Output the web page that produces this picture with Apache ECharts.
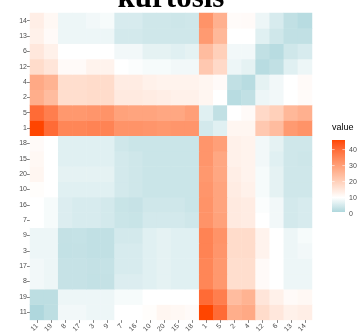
<!DOCTYPE html>
<html>
<head>
<meta charset="utf-8">
<script src="https://cdn.jsdelivr.net/npm/echarts@6/dist/echarts.min.js"></script>
<style>
  html, body { margin: 0; padding: 0; background: #ffffff; }
  #chart { width: 362px; height: 335px; }
</style>
</head>
<body>
<div id="chart"></div>
<script>
// Variable order along both axes (x left→right, y bottom→top)
const order = ['11','19','8','17','3','9','7','16','10','20','15','18','1','5','2','4','12','6','13','14'];

// Pairwise kurtosis, one row per variable in `order`, columns in the same order
const row11 = [1, 2.5, 8.5, 8.5, 8, 8, 10, 10, 10.5, 12, 11.5, 11, 46, 40, 27, 28, 17.5, 15, 13, 13.5];
const row19 = [2.5, 2.5, 8, 8, 8, 8, 9, 9, 10, 10, 10, 10, 40, 36.5, 24, 26, 15.5, 13, 11, 11.5];
const row8  = [8.5, 8, 3.5, 3.5, 3.2, 3.3, 6, 6, 6.5, 7, 6.5, 6.5, 35, 31.5, 17, 17, 11, 10, 8, 8];
const row17 = [8.5, 8, 3.5, 3.5, 3.3, 3.4, 5.5, 5.5, 6.5, 7, 6.5, 6.5, 35, 31.5, 17, 17, 11, 10, 8, 8];
const row3  = [8, 8, 3.2, 3.3, 3, 3, 5.5, 5.5, 6.5, 7, 6.5, 6.5, 35.5, 32, 17.5, 17.5, 12.5, 10, 8, 8.5];
const row9  = [8, 8, 3.3, 3.4, 3, 3, 5, 5, 6.5, 7, 6.5, 6.5, 35.5, 32.5, 17.5, 17.5, 12.5, 10, 8, 9];
const row7  = [10, 9, 6, 5.5, 5.5, 5, 4, 3.8, 5, 5, 5, 4.5, 32.5, 29.5, 14.5, 14, 10, 8.5, 5, 5.5];
const row16 = [10, 9, 6, 5.5, 5.5, 5, 3.8, 3.5, 4.5, 4.5, 4.5, 4, 32.5, 29, 14.5, 14, 9.5, 8.5, 5, 5.5];
const row10 = [10.5, 10, 6.5, 6.5, 6.5, 6.5, 5, 4.5, 4, 4, 4, 4, 32, 29, 14, 13, 9, 7, 4.5, 4.5];
const row20 = [12, 10, 7, 7, 7, 7, 5, 4.5, 4, 4, 4, 4, 31.5, 28.5, 13.5, 12.5, 9, 7, 4.5, 4.5];
const row15 = [11.5, 10, 6.5, 6.5, 6.5, 6.5, 5, 4.5, 4, 4, 4, 4, 32, 28.5, 13, 12.5, 8.5, 6.5, 4.5, 4.3];
const row18 = [11, 10, 6.5, 6.5, 6.5, 6.5, 4.5, 4, 4, 4, 4, 4, 32, 30, 13, 12.5, 8.5, 7, 4.5, 4.5];
const row1  = [46, 40, 35, 35, 35.5, 35.5, 32.5, 32.5, 32, 31.5, 32, 32, 5, 6.5, 12, 12, 21.5, 24, 31, 32.5];
const row5  = [40, 36.5, 31.5, 31.5, 32, 32.5, 29.5, 29, 29, 28.5, 28.5, 30, 6.5, 3, 10, 11, 18, 20, 25, 26.5];
const row2  = [27, 24, 17, 17, 17.5, 17.5, 14.5, 14.5, 14, 13.5, 13, 13, 12, 10, 2, 3, 8, 8.5, 10, 10.8];
const row4  = [28, 26, 17, 17, 17.5, 17.5, 14, 14, 13, 12.5, 12.5, 12.5, 12, 11, 3, 2, 7, 8.5, 10, 11];
const row12 = [17.5, 15.5, 11, 11, 12.5, 12.5, 10, 9.5, 9, 9, 8.5, 8.5, 21.5, 18, 8, 7, 2, 3, 6.5, 8];
const row6  = [15, 13, 10, 10, 10, 10, 8.5, 8.5, 7, 7, 6.5, 7, 24, 20, 8.5, 8.5, 3, 2, 4.5, 5.5];
const row13 = [13, 11, 8, 8, 8, 8, 5, 5, 4.5, 4.5, 4.5, 4.5, 31, 25, 10, 10, 6.5, 4.5, 3, 3];
const row14 = [13.5, 11.5, 8, 8, 8.5, 9, 5.5, 5.5, 4.5, 4.5, 4.3, 4.5, 32.5, 26.5, 10.8, 11, 8, 5.5, 3, 2];

const rows = [row11, row19, row8, row17, row3, row9, row7, row16, row10, row20,
              row15, row18, row1, row5, row2, row4, row12, row6, row13, row14];

const legendTicks = [0, 10, 20, 30, 40];
const titleText = 'kurtosis';
const legendTitle = 'value';

// ---- diverging colour scale (white at the midpoint), blended in CIELAB ----
const MID = 10;
const LOW_COLOR = '#a6d3d9';   // colour at value 0
const MID_COLOR = '#ffffff';
const HIGH_COLOR = '#ff4500';  // colour at the maximum

function hexToRgb(h) {
  h = h.replace('#', '');
  return [parseInt(h.slice(0, 2), 16), parseInt(h.slice(2, 4), 16), parseInt(h.slice(4, 6), 16)];
}
function toLin(c) { c /= 255; return c <= 0.04045 ? c / 12.92 : Math.pow((c + 0.055) / 1.055, 2.4); }
function fromLin(c) { c = c <= 0.0031308 ? 12.92 * c : 1.055 * Math.pow(c, 1 / 2.4) - 0.055; return Math.max(0, Math.min(255, Math.round(c * 255))); }
const WX = 0.95047, WY = 1.0, WZ = 1.08883;
function fLab(t) { return t > 0.008856 ? Math.cbrt(t) : 7.787 * t + 16 / 116; }
function fInv(t) { return t > 0.206893 ? t * t * t : (t - 16 / 116) / 7.787; }
function rgbToLab(rgb) {
  const r = toLin(rgb[0]), g = toLin(rgb[1]), b = toLin(rgb[2]);
  const x = (0.4124 * r + 0.3576 * g + 0.1805 * b) / WX;
  const y = (0.2126 * r + 0.7152 * g + 0.0722 * b) / WY;
  const z = (0.0193 * r + 0.1192 * g + 0.9505 * b) / WZ;
  const fx = fLab(x), fy = fLab(y), fz = fLab(z);
  return [116 * fy - 16, 500 * (fx - fy), 200 * (fy - fz)];
}
function labToHex(lab) {
  const fy = (lab[0] + 16) / 116, fx = fy + lab[1] / 500, fz = fy - lab[2] / 200;
  const x = fInv(fx) * WX, y = fInv(fy) * WY, z = fInv(fz) * WZ;
  const r = 3.2406 * x - 1.5372 * y - 0.4986 * z;
  const g = -0.9689 * x + 1.8758 * y + 0.0415 * z;
  const b = 0.0557 * x - 0.2040 * y + 1.0570 * z;
  return '#' + [fromLin(r), fromLin(g), fromLin(b)].map(v => v.toString(16).padStart(2, '0')).join('');
}
const labLow = rgbToLab(hexToRgb(LOW_COLOR));
const labMid = rgbToLab(hexToRgb(MID_COLOR));
const labHigh = rgbToLab(hexToRgb(HIGH_COLOR));
function mixLab(a, b, t) { return [a[0] + (b[0] - a[0]) * t, a[1] + (b[1] - a[1]) * t, a[2] + (b[2] - a[2]) * t]; }

const allValues = rows.flat();
const vmin = Math.min(...allValues);
const vmax = Math.max(...allValues);

function colorAt(v) {
  if (v <= MID) {
    const t = Math.max(0, Math.min(1, (MID - v) / MID));
    return labToHex(mixLab(labMid, labLow, t));
  }
  const t = Math.max(0, Math.min(1, (v - MID) / (vmax - MID)));
  return labToHex(mixLab(labMid, labHigh, t));
}

const NSTOPS = 91;
const rampColors = [];
for (let k = 0; k < NSTOPS; k++) rampColors.push(colorAt(vmin + (vmax - vmin) * k / (NSTOPS - 1)));

// heatmap cells: [x index, y index, value]
const cells = [];
rows.forEach((row, i) => row.forEach((v, j) => cells.push([j, i, v])));

// ---- layout ----
const PLOT = { left: 30, top: 13, right: 312, bottom: 320 };
const BAR = { x: 332, top: 140, bottom: 212, width: 13 };
const TEXT_GREY = '#4d4d4d';
const SANS = 'Liberation Sans, Arial, sans-serif';

function barY(v) { return BAR.bottom - (v - vmin) / (vmax - vmin) * (BAR.bottom - BAR.top); }

const legendGraphics = [];
legendGraphics.push({
  type: 'text', x: BAR.x, y: 128,
  style: { text: legendTitle, fill: '#000', font: '9px ' + SANS, verticalAlign: 'middle', align: 'left' }
});
legendGraphics.push({
  type: 'rect',
  shape: { x: BAR.x, y: BAR.top, width: BAR.width, height: BAR.bottom - BAR.top },
  style: {
    fill: new echarts.graphic.LinearGradient(0, 1, 0, 0,
      rampColors.map((c, k) => ({ offset: k / (NSTOPS - 1), color: c })))
  }
});
legendTicks.forEach(t => {
  const y = barY(t);
  if (y >= BAR.top && y <= BAR.bottom) {
    legendGraphics.push({ type: 'line', shape: { x1: BAR.x, y1: y, x2: BAR.x + 2.6, y2: y }, style: { stroke: '#fff', lineWidth: 0.6 } });
    legendGraphics.push({ type: 'line', shape: { x1: BAR.x + BAR.width - 2.6, y1: y, x2: BAR.x + BAR.width, y2: y }, style: { stroke: '#fff', lineWidth: 0.6 } });
  }
  legendGraphics.push({
    type: 'text', x: BAR.x + BAR.width + 4, y: y,
    style: { text: String(t), fill: TEXT_GREY, font: '7px ' + SANS, verticalAlign: 'middle', align: 'left' }
  });
});
legendGraphics.push({
  type: 'text', x: (PLOT.left + PLOT.right) / 2, y: -1,
  style: { text: titleText, fill: '#000', font: 'bold 31px "Liberation Serif", "Times New Roman", serif', align: 'center', verticalAlign: 'middle' }
});

const chart = echarts.init(document.getElementById('chart'), null, { renderer: 'canvas' });
chart.setOption({
  backgroundColor: '#ffffff',
  animation: false,
  grid: {
    left: PLOT.left, top: PLOT.top,
    width: PLOT.right - PLOT.left, height: PLOT.bottom - PLOT.top,
    containLabel: false
  },
  xAxis: {
    type: 'category', data: order,
    axisLine: { show: false },
    axisTick: { show: true, alignWithLabel: true, length: 3, lineStyle: { color: '#333', width: 0.6 } },
    axisLabel: { rotate: 45, fontSize: 7, color: TEXT_GREY, margin: 5, fontFamily: SANS, interval: 0 },
    splitLine: { show: false }
  },
  yAxis: {
    type: 'category', data: order,
    axisLine: { show: false },
    axisTick: { show: true, alignWithLabel: true, length: 3, lineStyle: { color: '#333', width: 0.6 } },
    axisLabel: { fontSize: 7, color: TEXT_GREY, margin: 3, fontFamily: SANS, interval: 0 },
    splitLine: { show: false }
  },
  visualMap: {
    type: 'continuous', show: false, dimension: 2,
    min: vmin, max: vmax,
    inRange: { color: rampColors }
  },
  series: [{
    type: 'heatmap',
    data: cells,
    itemStyle: { borderWidth: 0 },
    emphasis: { disabled: true }
  }],
  graphic: legendGraphics
});
</script>
</body>
</html>
